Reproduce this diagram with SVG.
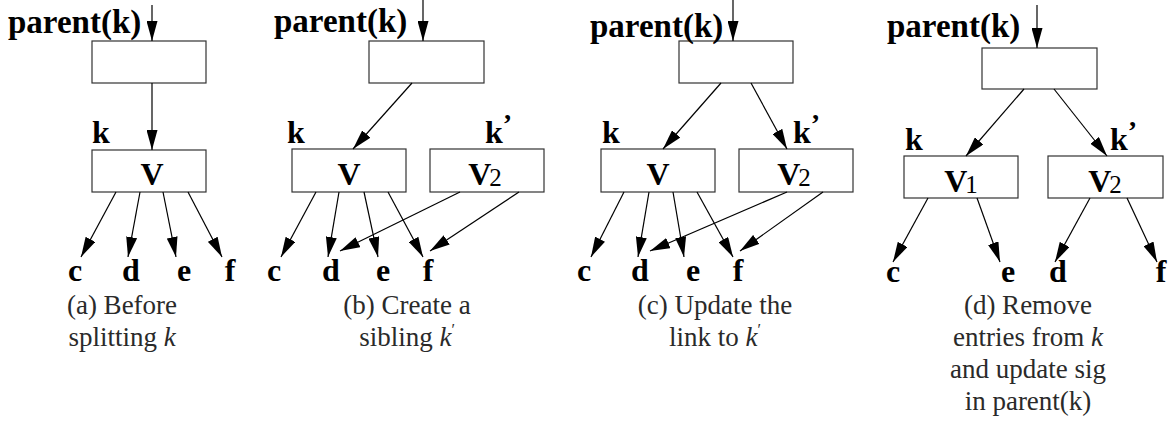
<svg xmlns="http://www.w3.org/2000/svg" width="1174" height="423" viewBox="0 0 1174 423">
<defs>
<marker id="ah" markerUnits="userSpaceOnUse" markerWidth="20" markerHeight="11" refX="20" refY="5.5" orient="auto">
<path d="M0,0 L20,5.5 L0,11 z" fill="#000"/>
</marker>
</defs>
<rect width="1174" height="423" fill="#fff"/>

<g id="a-parent"><rect x="92" y="41" width="114" height="42" fill="#fff" stroke="#333" stroke-width="1.2"/><text font-family="Liberation Serif" font-weight="bold" font-size="33" x="8" y="33">parent(k)</text></g>
<g id="a-k"><rect x="92" y="150" width="114" height="42" fill="#fff" stroke="#333" stroke-width="1.2"/><text font-family="Liberation Serif" font-weight="bold" font-size="32" x="92" y="143">k</text><text font-family="Liberation Serif" font-weight="bold" font-size="32" text-anchor="middle" x="152" y="185">V</text></g>
<g id="a-c"><text font-family="Liberation Serif" font-weight="bold" font-size="32" text-anchor="middle" x="75" y="281">c</text></g>
<g id="a-d"><text font-family="Liberation Serif" font-weight="bold" font-size="32" text-anchor="middle" x="131" y="281">d</text></g>
<g id="a-e"><text font-family="Liberation Serif" font-weight="bold" font-size="32" text-anchor="middle" x="184" y="281">e</text></g>
<g id="a-f"><text font-family="Liberation Serif" font-weight="bold" font-size="32" text-anchor="middle" x="230" y="281">f</text></g>
<g id="a-caption"><text font-family="Liberation Serif" font-size="27" fill="#2a2a2a" text-anchor="middle" x="122" y="314">(a) Before</text><text font-family="Liberation Serif" font-size="27" fill="#2a2a2a" text-anchor="middle" x="122" y="346">splitting <tspan font-style="italic">k</tspan></text></g>

<g id="b-parent"><rect x="369" y="41" width="115" height="42" fill="#fff" stroke="#333" stroke-width="1.2"/><text font-family="Liberation Serif" font-weight="bold" font-size="33" x="274" y="32">parent(k)</text></g>
<g id="b-k"><rect x="292" y="149" width="114" height="43" fill="#fff" stroke="#333" stroke-width="1.2"/><text font-family="Liberation Serif" font-weight="bold" font-size="32" x="287" y="143">k</text><text font-family="Liberation Serif" font-weight="bold" font-size="32" text-anchor="middle" x="349" y="185">V</text></g>
<g id="b-k2"><rect x="430" y="149" width="114" height="43" fill="#fff" stroke="#333" stroke-width="1.2"/><text font-family="Liberation Serif" font-weight="bold" font-size="32" x="485" y="143">k<tspan dy="-10" font-size="28">’</tspan></text><text font-family="Liberation Serif" font-weight="bold" font-size="32" text-anchor="middle" x="485" y="185">V<tspan font-weight="normal" font-size="25" dx="-2" dy="1">2</tspan></text></g>
<g id="b-c"><text font-family="Liberation Serif" font-weight="bold" font-size="32" text-anchor="middle" x="274" y="281">c</text></g>
<g id="b-d"><text font-family="Liberation Serif" font-weight="bold" font-size="32" text-anchor="middle" x="331" y="281">d</text></g>
<g id="b-e"><text font-family="Liberation Serif" font-weight="bold" font-size="32" text-anchor="middle" x="383" y="281">e</text></g>
<g id="b-f"><text font-family="Liberation Serif" font-weight="bold" font-size="32" text-anchor="middle" x="428" y="281">f</text></g>
<g id="b-caption"><text font-family="Liberation Serif" font-size="27" fill="#2a2a2a" text-anchor="middle" x="407" y="314">(b) Create a</text><text font-family="Liberation Serif" font-size="27" fill="#2a2a2a" text-anchor="middle" x="407" y="346">sibling <tspan font-style="italic">k</tspan><tspan font-size="16" dy="-11">′</tspan></text></g>

<g id="c-parent"><rect x="679" y="41" width="114" height="42" fill="#fff" stroke="#333" stroke-width="1.2"/><text font-family="Liberation Serif" font-weight="bold" font-size="33" x="590" y="37">parent(k)</text></g>
<g id="c-k"><rect x="601" y="149" width="114" height="43" fill="#fff" stroke="#333" stroke-width="1.2"/><text font-family="Liberation Serif" font-weight="bold" font-size="32" x="602" y="143">k</text><text font-family="Liberation Serif" font-weight="bold" font-size="32" text-anchor="middle" x="658" y="185">V</text></g>
<g id="c-k2"><rect x="739" y="149" width="114" height="43" fill="#fff" stroke="#333" stroke-width="1.2"/><text font-family="Liberation Serif" font-weight="bold" font-size="32" x="793" y="143">k<tspan dy="-10" font-size="28">’</tspan></text><text font-family="Liberation Serif" font-weight="bold" font-size="32" text-anchor="middle" x="794" y="185">V<tspan font-weight="normal" font-size="25" dx="-2" dy="1">2</tspan></text></g>
<g id="c-c"><text font-family="Liberation Serif" font-weight="bold" font-size="32" text-anchor="middle" x="584" y="281">c</text></g>
<g id="c-d"><text font-family="Liberation Serif" font-weight="bold" font-size="32" text-anchor="middle" x="640" y="281">d</text></g>
<g id="c-e"><text font-family="Liberation Serif" font-weight="bold" font-size="32" text-anchor="middle" x="693" y="281">e</text></g>
<g id="c-f"><text font-family="Liberation Serif" font-weight="bold" font-size="32" text-anchor="middle" x="738" y="281">f</text></g>
<g id="c-caption"><text font-family="Liberation Serif" font-size="27" fill="#2a2a2a" text-anchor="middle" x="715" y="314">(c) Update the</text><text font-family="Liberation Serif" font-size="27" fill="#2a2a2a" text-anchor="middle" x="715" y="346">link to <tspan font-style="italic">k</tspan><tspan font-size="16" dy="-11">′</tspan></text></g>

<g id="d-parent"><rect x="982" y="48" width="115" height="41" fill="#fff" stroke="#333" stroke-width="1.2"/><text font-family="Liberation Serif" font-weight="bold" font-size="33" x="887" y="37">parent(k)</text></g>
<g id="d-k"><rect x="904" y="156" width="114" height="42" fill="#fff" stroke="#333" stroke-width="1.2"/><text font-family="Liberation Serif" font-weight="bold" font-size="32" x="905" y="150">k</text><text font-family="Liberation Serif" font-weight="bold" font-size="32" text-anchor="middle" x="961" y="192">V<tspan font-weight="normal" font-size="25" dx="-2" dy="1">1</tspan></text></g>
<g id="d-k2"><rect x="1048" y="156" width="115" height="42" fill="#fff" stroke="#333" stroke-width="1.2"/><text font-family="Liberation Serif" font-weight="bold" font-size="32" x="1110" y="150">k<tspan dy="-10" font-size="28">’</tspan></text><text font-family="Liberation Serif" font-weight="bold" font-size="32" text-anchor="middle" x="1105" y="192">V<tspan font-weight="normal" font-size="25" dx="-2" dy="1">2</tspan></text></g>
<g id="d-c"><text font-family="Liberation Serif" font-weight="bold" font-size="32" text-anchor="middle" x="893" y="282">c</text></g>
<g id="d-e"><text font-family="Liberation Serif" font-weight="bold" font-size="32" text-anchor="middle" x="1008" y="282">e</text></g>
<g id="d-d"><text font-family="Liberation Serif" font-weight="bold" font-size="32" text-anchor="middle" x="1058" y="282">d</text></g>
<g id="d-f"><text font-family="Liberation Serif" font-weight="bold" font-size="32" text-anchor="middle" x="1161" y="282">f</text></g>
<g id="d-caption"><text font-family="Liberation Serif" font-size="27" fill="#2a2a2a" text-anchor="middle" x="1028" y="314">(d) Remove</text><text font-family="Liberation Serif" font-size="27" fill="#2a2a2a" text-anchor="middle" x="1028" y="346">entries from <tspan font-style="italic">k</tspan></text><text font-family="Liberation Serif" font-size="27" fill="#2a2a2a" text-anchor="middle" x="1028" y="378">and update sig</text><text font-family="Liberation Serif" font-size="27" fill="#2a2a2a" text-anchor="middle" x="1028" y="410">in parent(k)</text></g>

<g id="connectors" stroke="#000" stroke-width="1.2" fill="none">
<line marker-end="url(#ah)" x1="152" y1="5" x2="152" y2="41"/>
<line marker-end="url(#ah)" x1="152" y1="83" x2="152" y2="150"/>
<line marker-end="url(#ah)" x1="116" y1="192" x2="81" y2="257"/>
<line marker-end="url(#ah)" x1="140" y1="192" x2="128" y2="257"/>
<line marker-end="url(#ah)" x1="163" y1="192" x2="176" y2="257"/>
<line marker-end="url(#ah)" x1="188" y1="192" x2="222" y2="257"/>

<line marker-end="url(#ah)" x1="423" y1="0" x2="423" y2="41"/>
<line marker-end="url(#ah)" x1="412" y1="83" x2="353" y2="149"/>
<line marker-end="url(#ah)" x1="316" y1="192" x2="281" y2="257"/>
<line marker-end="url(#ah)" x1="339" y1="192" x2="328" y2="257"/>
<line marker-end="url(#ah)" x1="364" y1="192" x2="378" y2="257"/>
<line marker-end="url(#ah)" x1="388" y1="192" x2="423" y2="257"/>
<line marker-end="url(#ah)" x1="460" y1="192" x2="340" y2="251"/>
<line marker-end="url(#ah)" x1="519" y1="192" x2="430" y2="251"/>

<line marker-end="url(#ah)" x1="733" y1="0" x2="733" y2="41"/>
<line marker-end="url(#ah)" x1="721" y1="83" x2="663" y2="149"/>
<line marker-end="url(#ah)" x1="751" y1="83" x2="787" y2="149"/>
<line marker-end="url(#ah)" x1="624" y1="192" x2="591" y2="257"/>
<line marker-end="url(#ah)" x1="649" y1="192" x2="638" y2="257"/>
<line marker-end="url(#ah)" x1="673" y1="192" x2="684" y2="257"/>
<line marker-end="url(#ah)" x1="697" y1="192" x2="733" y2="257"/>
<line marker-end="url(#ah)" x1="787" y1="192" x2="650" y2="251"/>
<line marker-end="url(#ah)" x1="823" y1="192" x2="740" y2="251"/>

<line marker-end="url(#ah)" x1="1037" y1="5" x2="1037" y2="48"/>
<line marker-end="url(#ah)" x1="1024" y1="89" x2="966" y2="156"/>
<line marker-end="url(#ah)" x1="1054" y1="89" x2="1107" y2="156"/>
<line marker-end="url(#ah)" x1="928" y1="198" x2="893" y2="262"/>
<line marker-end="url(#ah)" x1="977" y1="198" x2="1000" y2="262"/>
<line marker-end="url(#ah)" x1="1090" y1="198" x2="1055" y2="262"/>
<line marker-end="url(#ah)" x1="1127" y1="198" x2="1157" y2="262"/>
</g>
</svg>
